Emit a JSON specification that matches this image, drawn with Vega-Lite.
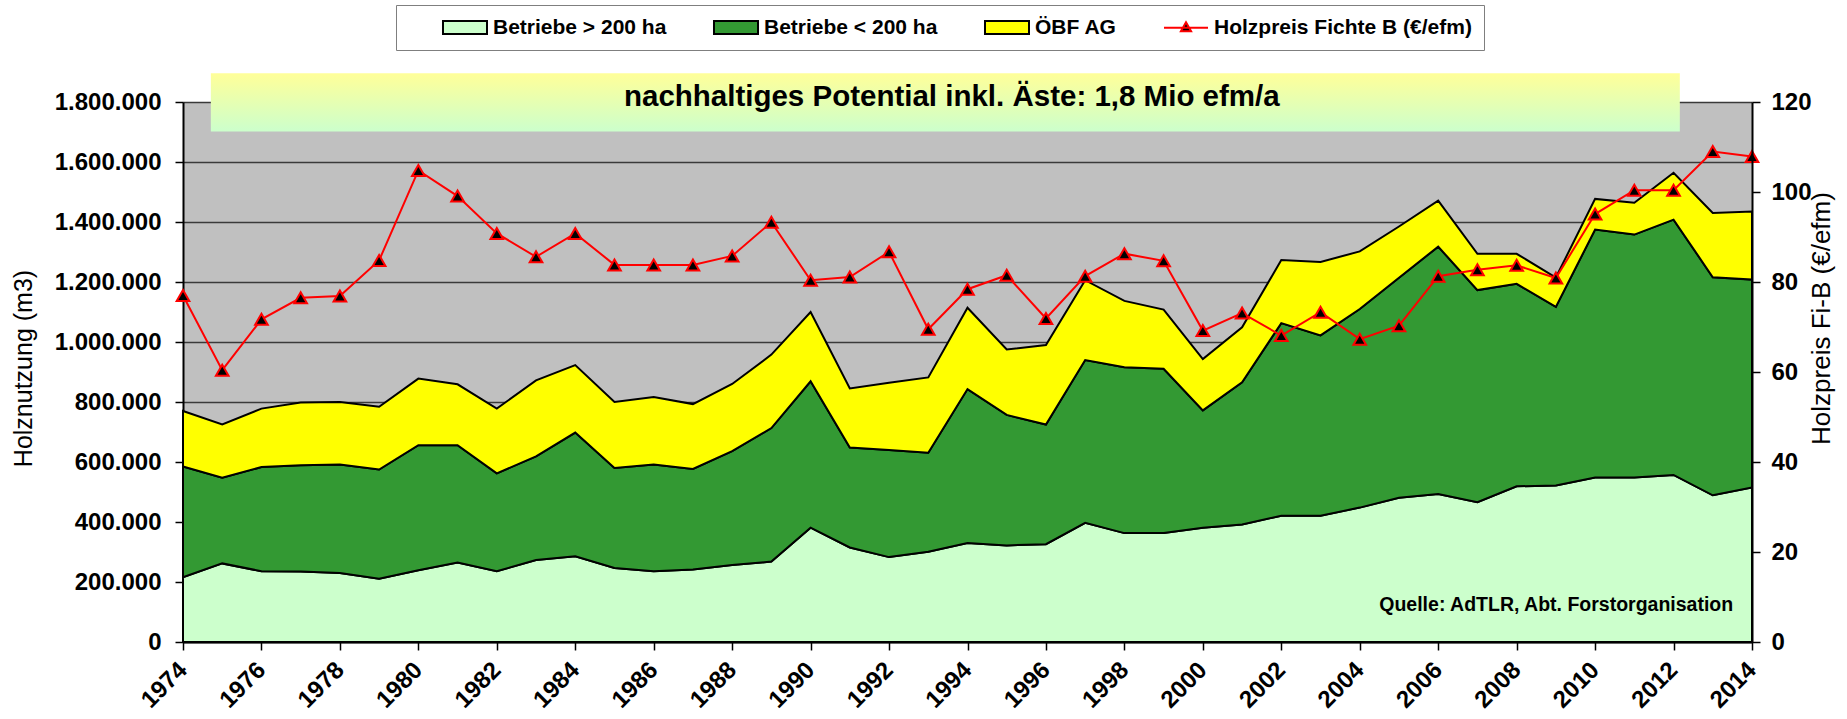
{
  "$schema": "https://vega.github.io/schema/vega-lite/v6.json",
  "width": 1569,
  "height": 540,
  "autosize": {"type": "none"},
  "padding": {"left": 183, "top": 102, "right": 95, "bottom": 77},
  "background": "white",
  "config": {
    "locale": {"number": {"decimal": ",", "thousands": ".", "grouping": [3], "currency": ["", " €"]}},
    "font": "Liberation Sans",
    "view": {"fill": "#c0c0c0", "stroke": null},
    "axis": {
      "domainColor": "black", "domainWidth": 2,
      "tickColor": "black", "tickWidth": 1.5, "tickSize": 8,
      "labelFont": "Liberation Sans", "labelFontWeight": "bold", "labelFontSize": 24, "labelColor": "black",
      "titleFont": "Liberation Sans", "titleFontWeight": "normal", "titleFontSize": 25, "titleColor": "black",
      "grid": false
    }
  },
  "datasets": {
    "holz": [
      {"Jahr": 1974, "Betriebe > 200 ha": 216000, "Betriebe < 200 ha": 369000, "ÖBF AG": 185000, "Holzpreis": 77.0},
      {"Jahr": 1975, "Betriebe > 200 ha": 262000, "Betriebe < 200 ha": 286000, "ÖBF AG": 177000, "Holzpreis": 60.4},
      {"Jahr": 1976, "Betriebe > 200 ha": 236000, "Betriebe < 200 ha": 347000, "ÖBF AG": 195000, "Holzpreis": 71.7},
      {"Jahr": 1977, "Betriebe > 200 ha": 235000, "Betriebe < 200 ha": 354000, "ÖBF AG": 209000, "Holzpreis": 76.5},
      {"Jahr": 1978, "Betriebe > 200 ha": 230000, "Betriebe < 200 ha": 362000, "ÖBF AG": 208000, "Holzpreis": 76.9},
      {"Jahr": 1979, "Betriebe > 200 ha": 211000, "Betriebe < 200 ha": 364000, "ÖBF AG": 209000, "Holzpreis": 84.8},
      {"Jahr": 1980, "Betriebe > 200 ha": 239000, "Betriebe < 200 ha": 417000, "ÖBF AG": 222000, "Holzpreis": 104.8},
      {"Jahr": 1981, "Betriebe > 200 ha": 265000, "Betriebe < 200 ha": 391000, "ÖBF AG": 203000, "Holzpreis": 99.1},
      {"Jahr": 1982, "Betriebe > 200 ha": 236000, "Betriebe < 200 ha": 326000, "ÖBF AG": 216000, "Holzpreis": 90.8},
      {"Jahr": 1983, "Betriebe > 200 ha": 273000, "Betriebe < 200 ha": 346000, "ÖBF AG": 253000, "Holzpreis": 85.6},
      {"Jahr": 1984, "Betriebe > 200 ha": 286000, "Betriebe < 200 ha": 412000, "ÖBF AG": 225000, "Holzpreis": 90.8},
      {"Jahr": 1985, "Betriebe > 200 ha": 247000, "Betriebe < 200 ha": 333000, "ÖBF AG": 220000, "Holzpreis": 83.8},
      {"Jahr": 1986, "Betriebe > 200 ha": 236000, "Betriebe < 200 ha": 356000, "ÖBF AG": 225000, "Holzpreis": 83.8},
      {"Jahr": 1987, "Betriebe > 200 ha": 242000, "Betriebe < 200 ha": 335000, "ÖBF AG": 216000, "Holzpreis": 83.8},
      {"Jahr": 1988, "Betriebe > 200 ha": 257000, "Betriebe < 200 ha": 379000, "ÖBF AG": 224000, "Holzpreis": 85.8},
      {"Jahr": 1989, "Betriebe > 200 ha": 268000, "Betriebe < 200 ha": 445000, "ÖBF AG": 245000, "Holzpreis": 93.3},
      {"Jahr": 1990, "Betriebe > 200 ha": 381000, "Betriebe < 200 ha": 488000, "ÖBF AG": 231000, "Holzpreis": 80.4},
      {"Jahr": 1991, "Betriebe > 200 ha": 315000, "Betriebe < 200 ha": 333000, "ÖBF AG": 197000, "Holzpreis": 81.1},
      {"Jahr": 1992, "Betriebe > 200 ha": 283000, "Betriebe < 200 ha": 357000, "ÖBF AG": 224000, "Holzpreis": 86.7},
      {"Jahr": 1993, "Betriebe > 200 ha": 301000, "Betriebe < 200 ha": 330000, "ÖBF AG": 251000, "Holzpreis": 69.5},
      {"Jahr": 1994, "Betriebe > 200 ha": 330000, "Betriebe < 200 ha": 513000, "ÖBF AG": 271000, "Holzpreis": 78.4},
      {"Jahr": 1995, "Betriebe > 200 ha": 322000, "Betriebe < 200 ha": 435000, "ÖBF AG": 218000, "Holzpreis": 81.5},
      {"Jahr": 1996, "Betriebe > 200 ha": 326000, "Betriebe < 200 ha": 399000, "ÖBF AG": 265000, "Holzpreis": 71.9},
      {"Jahr": 1997, "Betriebe > 200 ha": 397000, "Betriebe < 200 ha": 543000, "ÖBF AG": 266000, "Holzpreis": 81.3},
      {"Jahr": 1998, "Betriebe > 200 ha": 363000, "Betriebe < 200 ha": 553000, "ÖBF AG": 221000, "Holzpreis": 86.3},
      {"Jahr": 1999, "Betriebe > 200 ha": 363000, "Betriebe < 200 ha": 548000, "ÖBF AG": 197000, "Holzpreis": 84.7},
      {"Jahr": 2000, "Betriebe > 200 ha": 381000, "Betriebe < 200 ha": 391000, "ÖBF AG": 171000, "Holzpreis": 69.2},
      {"Jahr": 2001, "Betriebe > 200 ha": 392000, "Betriebe < 200 ha": 474000, "ÖBF AG": 183000, "Holzpreis": 73.1},
      {"Jahr": 2002, "Betriebe > 200 ha": 421000, "Betriebe < 200 ha": 642000, "ÖBF AG": 210000, "Holzpreis": 68.1},
      {"Jahr": 2003, "Betriebe > 200 ha": 421000, "Betriebe < 200 ha": 601000, "ÖBF AG": 245000, "Holzpreis": 73.3},
      {"Jahr": 2004, "Betriebe > 200 ha": 448000, "Betriebe < 200 ha": 662000, "ÖBF AG": 192000, "Holzpreis": 67.3},
      {"Jahr": 2005, "Betriebe > 200 ha": 481000, "Betriebe < 200 ha": 733000, "ÖBF AG": 171000, "Holzpreis": 70.3},
      {"Jahr": 2006, "Betriebe > 200 ha": 493000, "Betriebe < 200 ha": 825000, "ÖBF AG": 153000, "Holzpreis": 81.3},
      {"Jahr": 2007, "Betriebe > 200 ha": 466000, "Betriebe < 200 ha": 707000, "ÖBF AG": 121000, "Holzpreis": 82.7},
      {"Jahr": 2008, "Betriebe > 200 ha": 519000, "Betriebe < 200 ha": 675000, "ÖBF AG": 100000, "Holzpreis": 83.7},
      {"Jahr": 2009, "Betriebe > 200 ha": 522000, "Betriebe < 200 ha": 595000, "ÖBF AG": 98000, "Holzpreis": 80.9},
      {"Jahr": 2010, "Betriebe > 200 ha": 548000, "Betriebe < 200 ha": 827000, "ÖBF AG": 102000, "Holzpreis": 95.1},
      {"Jahr": 2011, "Betriebe > 200 ha": 548000, "Betriebe < 200 ha": 810000, "ÖBF AG": 106000, "Holzpreis": 100.4},
      {"Jahr": 2012, "Betriebe > 200 ha": 557000, "Betriebe < 200 ha": 851000, "ÖBF AG": 156000, "Holzpreis": 100.4},
      {"Jahr": 2013, "Betriebe > 200 ha": 489000, "Betriebe < 200 ha": 727000, "ÖBF AG": 214000, "Holzpreis": 109.0},
      {"Jahr": 2014, "Betriebe > 200 ha": 515000, "Betriebe < 200 ha": 693000, "ÖBF AG": 227000, "Holzpreis": 107.9}
    ]
  },
  "layer": [
    {
      "layer": [
        {
          "data": {"name": "holz"},
          "transform": [
            {"fold": ["Betriebe > 200 ha", "Betriebe < 200 ha", "ÖBF AG"], "as": ["Serie", "m3"]},
            {"window": [{"op": "row_number", "as": "Ebene"}], "groupby": ["Jahr"]}
          ],
          "mark": {"type": "area", "stroke": "black", "strokeWidth": 2, "opacity": 1, "fillOpacity": 1, "interpolate": "linear"},
          "encoding": {
            "x": {
              "field": "Jahr", "type": "quantitative",
              "scale": {"domain": [1974, 2014], "nice": false, "zero": false},
              "axis": {
                "title": null,
                "values": [1974,1975,1976,1977,1978,1979,1980,1981,1982,1983,1984,1985,1986,1987,1988,1989,1990,1991,1992,1993,1994,1995,1996,1997,1998,1999,2000,2001,2002,2003,2004,2005,2006,2007,2008,2009,2010,2011,2012,2013,2014],
                "format": "d",
                "labelExpr": "datum.value % 2 === 0 ? datum.label : ''",
                "labelAngle": -45, "labelAlign": "right", "labelBaseline": "middle",
                "labelPadding": 16, "labelOverlap": false, "labelFlush": false, "labelBound": false,
                "zindex": 1
              }
            },
            "y": {
              "field": "m3", "type": "quantitative", "stack": "zero",
              "scale": {"domain": [0, 1800000], "nice": false},
              "axis": {
                "orient": "left",
                "title": "Holznutzung (m3)",
                "values": [0, 200000, 400000, 600000, 800000, 1000000, 1200000, 1400000, 1600000, 1800000],
                "format": ",d",
                "grid": true, "gridColor": "#3a3a3a", "gridWidth": 1.5,
                "labelPadding": 14,
                "titleAngle": 270, "titleX": -160, "titleY": 266, "titleAlign": "center", "titleBaseline": "middle"
              }
            },
            "fill": {
              "field": "Serie", "type": "nominal",
              "scale": {
                "domain": ["Betriebe > 200 ha", "Betriebe < 200 ha", "ÖBF AG", "Holzpreis Fichte B (€/efm)"],
                "range": ["#ccffcc", "#339933", "#ffff00", "#000000"]
              },
              "legend": {
                "title": null,
                "orient": "none", "legendX": 213, "legendY": -97,
                "direction": "horizontal",
                "padding": 12, "columnPadding": 12,
                "symbolOffset": 62, "symbolSize": 169, "labelOffset": 2, "labelLimit": 500,
                "symbolType": {"expr": "datum.value === 'Holzpreis Fichte B (€/efm)' ? 'M-5.77,0H1M-2.385,-0.85L-1.6,0.55H-3.17Z' : 'M-5.77,-1H1V1H-5.77Z'"},
                "symbolStrokeColor": {"expr": "datum.value === 'Holzpreis Fichte B (€/efm)' ? '#ff0000' : '#000000'"},
                "symbolStrokeWidth": 2,
                "symbolOpacity": 1,
                "labelFont": "Liberation Sans", "labelFontWeight": "bold", "labelFontSize": 21, "labelColor": "black",
                "fillColor": "white", "strokeColor": "#7f7f7f"
              }
            },
            "order": {"field": "Ebene", "type": "quantitative", "sort": "ascending"}
          }
        },
        {
          "data": {"values": [{}]},
          "mark": {"type": "rect", "fill": {"gradient": "linear", "x1": 0, "y1": 0, "x2": 0, "y2": 1, "stops": [{"offset": 0, "color": "#ffff99"}, {"offset": 1, "color": "#ccffcc"}]}, "stroke": null},
          "encoding": {
            "x": {"datum": 1974.71, "type": "quantitative"},
            "x2": {"datum": 2012.16},
            "y": {"datum": 1895700, "type": "quantitative"},
            "y2": {"datum": 1701700}
          }
        },
        {
          "data": {"values": [{}]},
          "mark": {"type": "text", "text": "nachhaltiges Potential inkl. Äste: 1,8 Mio efm/a", "font": "Liberation Sans", "fontWeight": "bold", "fontSize": 29.5, "color": "black", "align": "center", "baseline": "alphabetic"},
          "encoding": {
            "x": {"datum": 1993.6, "type": "quantitative"},
            "y": {"datum": 1786700, "type": "quantitative"}
          }
        },
        {
          "data": {"values": [{}]},
          "mark": {"type": "text", "text": "Quelle: AdTLR, Abt. Forstorganisation", "font": "Liberation Sans", "fontWeight": "bold", "fontSize": 19.5, "color": "black", "align": "right", "baseline": "alphabetic"},
          "encoding": {
            "x": {"datum": 2013.52, "type": "quantitative"},
            "y": {"datum": 103000, "type": "quantitative"}
          }
        }
      ]
    },
    {
      "data": {"name": "holz"},
      "mark": {
        "type": "line", "color": "#ff0000", "strokeWidth": 2,
        "point": {"shape": "triangle-up", "filled": true, "fill": "#000000", "stroke": "#ff0000", "strokeWidth": 2, "size": 160, "opacity": 1}
      },
      "encoding": {
        "x": {"field": "Jahr", "type": "quantitative"},
        "y": {
          "field": "Holzpreis", "type": "quantitative",
          "scale": {"domain": [0, 120], "nice": false},
          "axis": {
            "orient": "right",
            "title": "Holzpreis Fi-B (€/efm)",
            "titleFontSize": 26,
            "values": [0, 20, 40, 60, 80, 100, 120],
            "format": "d",
            "labelPadding": 11,
            "zindex": 1,
            "titleAngle": 270, "titleX": 69, "titleY": 216, "titleAlign": "center", "titleBaseline": "middle"
          }
        }
      }
    }
  ],
  "resolve": {"scale": {"y": "independent"}}
}
